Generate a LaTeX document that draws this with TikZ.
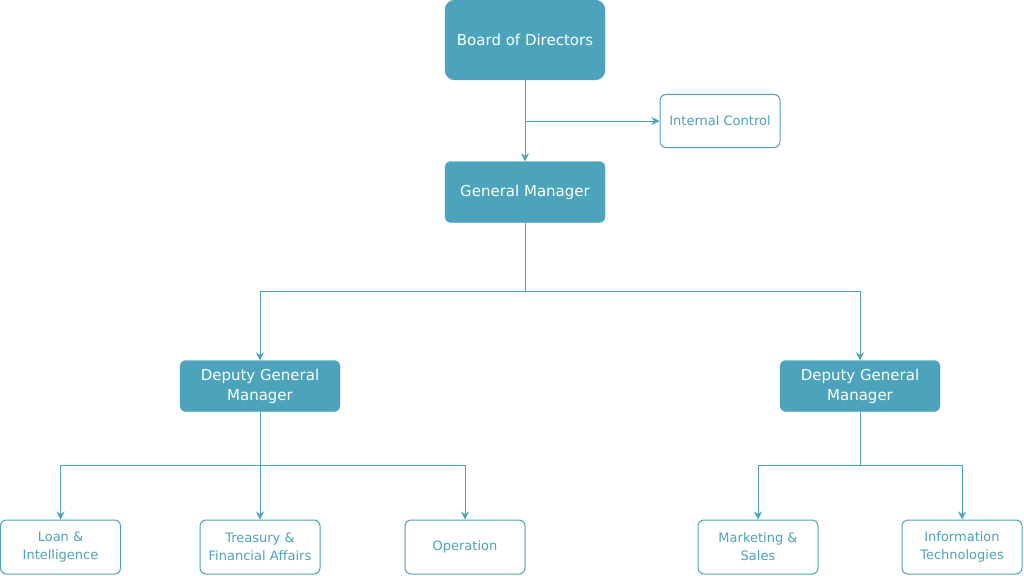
\documentclass[tikz,border=0pt]{standalone}
\usepackage{fontspec}
\setmainfont{DejaVu Sans}
\usetikzlibrary{arrows.meta}
\definecolor{teal1}{HTML}{4BA3BC}
\tikzset{
  main/.style={draw=teal1, fill=teal1, rounded corners=6pt, text=white, align=center, inner sep=0pt, font=\fontsize{15}{20}\selectfont},
  sub/.style={draw=teal1, line width=1pt, fill=white, rounded corners=6pt, text=teal1, align=center, inner sep=0pt, minimum width=120pt, minimum height=54pt, font=\fontsize{13}{18}\selectfont},
  conn/.style={draw=teal1, line width=1pt, -{Stealth[length=8pt,width=8pt]}},
  line/.style={draw=teal1, line width=1pt}
}
\begin{document}
\begin{tikzpicture}[x=1pt,y=-1pt]
\useasboundingbox (0,0) rectangle (1024,575);
\node[main, minimum width=160pt, minimum height=80pt, rounded corners=10pt] (board) at (525,40) {Board of Directors};
\node[sub, minimum height=53pt] (ic) at (720,121) {Internal Control};
\node[main, minimum width=160pt, minimum height=61pt] (gm) at (525,192) {General Manager};
\node[main, minimum width=160pt, minimum height=51pt] (dl) at (260,386) {Deputy General\\Manager};
\node[main, minimum width=160pt, minimum height=51pt] (dr) at (860,386) {Deputy General\\Manager};
\node[sub] (loan) at (60.5,547) {Loan \&\\Intelligence};
\node[sub] (tre) at (260,547) {Treasury \&\\Financial Affairs};
\node[sub] (op) at (465,547) {Operation};
\node[sub] (mk) at (758,547) {Marketing \&\\Sales};
\node[sub] (it) at (962,547) {Information\\Technologies};
\coordinate (j1) at (525,121);
\draw[conn] (board.south) -- (gm.north);
\draw[conn] (j1) -- (ic.west);
\draw[conn] (gm.south) -- (525,291) -| (dl.north);
\draw[conn] (gm.south) -- (525,291) -| (dr.north);
\draw[line] (dl.south) -- (260,465);
\draw[conn] (260,465) -| (loan.north);
\draw[conn] (260,465) -- (tre.north);
\draw[conn] (260,465) -| (op.north);
\draw[line] (dr.south) -- (860,465);
\draw[conn] (860,465) -| (mk.north);
\draw[conn] (860,465) -| (it.north);
\end{tikzpicture}
\end{document}
